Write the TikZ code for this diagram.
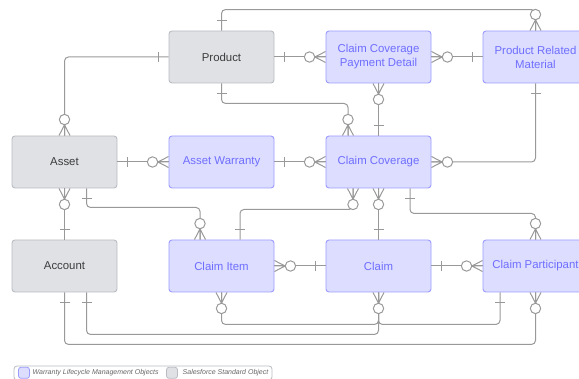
\documentclass[tikz,border=0pt]{standalone}
\usepackage{fontspec}
\setmainfont{Liberation Sans}
\usetikzlibrary{calc}

\definecolor{wlmfill}{HTML}{DDDDFF}
\definecolor{wlmdraw}{HTML}{9C9CFF}
\definecolor{wlmtext}{HTML}{6E6EFF}
\definecolor{sffill}{HTML}{DFE1E5}
\definecolor{sfdraw}{HTML}{B9BCC2}
\definecolor{sftext}{HTML}{3C3C3C}
\definecolor{linkcol}{HTML}{999999}
\definecolor{legtext}{HTML}{666666}

\tikzset{
  entity/.style={minimum width=105pt, minimum height=52pt, rounded corners=3pt,
    line width=0.9pt, align=center, inner sep=0pt,
    font=\fontsize{11.4}{14}\selectfont},
  wlm/.style={entity, fill=wlmfill, draw=wlmdraw, text=wlmtext},
  sfobj/.style={entity, fill=sffill, draw=sfdraw, text=sftext},
  conn/.style={draw=linkcol, line width=1pt, rounded corners=4pt},
  % cardinality marks, drawn outward from a box edge along +x
  one/.pic={\draw[linkcol, line width=1pt] (10,-5) -- (10,5);},
  zmany/.pic={
    \draw[linkcol, line width=1pt] (0,-5.5) -- (10.7,0) -- (0,5.5) (0,0) -- (10.7,0);
    \draw[linkcol, line width=1pt, fill=white] (16,0) circle (5.2pt);},
  legtxt/.style={anchor=west, inner sep=0pt, text=legtext,
    font=\fontsize{7}{8}\selectfont\itshape},
}

\begin{document}
\begin{tikzpicture}[x=1pt, y=-1pt]
\useasboundingbox (0,0) rectangle (579,379);
\clip (0,0) rectangle (579,379);

% entities
\node[sfobj] (prod)  at (221.5,57)  {Product};
\node[sfobj] (asset) at (64.5,162)  {Asset};
\node[sfobj] (acct)  at (64.5,266)  {Account};
\node[wlm]   (ccpd)  at (378.5,57)  {Claim Coverage\\Payment Detail};
\node[wlm]   (prm)   at (535.5,57)  {Product Related\\Material};
\node[wlm]   (aw)    at (221.5,162) {Asset Warranty};
\node[wlm]   (cc)    at (378.5,162) {Claim Coverage};
\node[wlm]   (ci)    at (221.5,266) {Claim Item};
\node[wlm]   (claim) at (378.5,266) {Claim};
\node[wlm]   (cp)    at (535.5,266) {Claim Participant};

% extra attachment points on box edges
\coordinate (cc-n1)    at ([xshift=-30.5pt]cc.north);
\coordinate (cc-s1)    at ([xshift=-25.5pt]cc.south);
\coordinate (cc-s3)    at ([xshift=31.5pt]cc.south);
\coordinate (asset-s2) at ([xshift=22pt]asset.south);
\coordinate (ci-n1)    at ([xshift=-21.5pt]ci.north);
\coordinate (ci-n2)    at ([xshift=18.5pt]ci.north);
\coordinate (acct-s2)  at ([xshift=22pt]acct.south);
\coordinate (cp-s1)    at ([xshift=-35.5pt]cp.south);

% relationships
\draw[conn] (prod.north) -- ++(0,-21) -| (prm.north);
\draw[conn] (prod.west) -| (asset.north);
\draw[conn] (prod.east) -- (ccpd.west);
\draw[conn] (prod.south) -- ++(0,20) -| (cc-n1);
\draw[conn] (ccpd.east) -- (prm.west);
\draw[conn] (ccpd.south) -- (cc.north);
\draw[conn] (prm.south) |- (cc.east);
\draw[conn] (asset.east) -- (aw.west);
\draw[conn] (aw.east) -- (cc.west);
\draw[conn] (asset.south) -- (acct.north);
\draw[conn] (asset-s2) -- ++(0,19) -| (ci-n1);
\draw[conn] (cc-s1) -- ++(0,21) -| (ci-n2);
\draw[conn] (cc.south) -- (claim.north);
\draw[conn] (cc-s3) -- ++(0,25) -| (cp.north);
\draw[conn] (ci.east) -- (claim.west);
\draw[conn] (claim.east) -- (cp.west);
\draw[conn] (ci.south) -- ++(0,32) -| (claim.south);
\draw[conn] (cp-s1) -- ++(0,32) -| (claim.south);
\draw[conn] (acct-s2) -- ++(0,42) -| (claim.south);
\draw[conn] (acct.south) -- ++(0,52) -| (cp.south);

% cardinality marks
\pic[rotate=90]  at (prod.north)  {one};
\pic[rotate=90]  at (prm.north)   {zmany};
\pic[rotate=180] at (prod.west)   {one};
\pic[rotate=90]  at (asset.north) {zmany};
\pic             at (prod.east)   {one};
\pic[rotate=180] at (ccpd.west)   {zmany};
\pic[rotate=-90] at (prod.south)  {one};
\pic[rotate=90]  at (cc-n1)       {zmany};
\pic             at (ccpd.east)   {zmany};
\pic[rotate=180] at (prm.west)    {one};
\pic[rotate=-90] at (ccpd.south)  {zmany};
\pic[rotate=90]  at (cc.north)    {one};
\pic[rotate=-90] at (prm.south)   {one};
\pic             at (cc.east)     {zmany};
\pic             at (asset.east)  {one};
\pic[rotate=180] at (aw.west)     {zmany};
\pic             at (aw.east)     {one};
\pic[rotate=180] at (cc.west)     {zmany};
\pic[rotate=-90] at (asset.south) {zmany};
\pic[rotate=90]  at (acct.north)  {one};
\pic[rotate=-90] at (asset-s2)    {one};
\pic[rotate=90]  at (ci-n1)       {zmany};
\pic[rotate=-90] at (cc-s1)       {zmany};
\pic[rotate=90]  at (ci-n2)       {one};
\pic[rotate=-90] at (cc.south)    {zmany};
\pic[rotate=90]  at (claim.north) {one};
\pic[rotate=-90] at (cc-s3)       {one};
\pic[rotate=90]  at (cp.north)    {zmany};
\pic             at (ci.east)     {zmany};
\pic[rotate=180] at (claim.west)  {one};
\pic             at (claim.east)  {one};
\pic[rotate=180] at (cp.west)     {zmany};
\pic[rotate=-90] at (ci.south)    {zmany};
\pic[rotate=-90] at (claim.south) {zmany};
\pic[rotate=-90] at (acct-s2)     {one};
\pic[rotate=-90] at (cp-s1)       {one};
\pic[rotate=-90] at (acct.south)  {one};
\pic[rotate=-90] at (cp.south)    {zmany};

% legend
\node[draw=sfdraw, fill=white, rounded corners=3pt, line width=0.8pt,
      minimum width=258pt, minimum height=14pt, inner sep=0pt] (legend) at (143,373) {};
\node[fill=wlmfill, draw=wlmdraw, rounded corners=2.5pt, line width=0.8pt,
      minimum width=11pt, minimum height=11pt, inner sep=0pt] (legwlm) at (24,372.8) {};
\node[legtxt] (legwlmtxt) at (32.5,373) {Warranty Lifecycle Management Objects};
\node[fill=sffill, draw=sfdraw, rounded corners=2.5pt, line width=0.8pt,
      minimum width=11pt, minimum height=11pt, inner sep=0pt] (legsf) at (172,372.8) {};
\node[legtxt] (legsftxt) at (182.5,373) {Salesforce Standard Object};
\end{tikzpicture}
\end{document}
